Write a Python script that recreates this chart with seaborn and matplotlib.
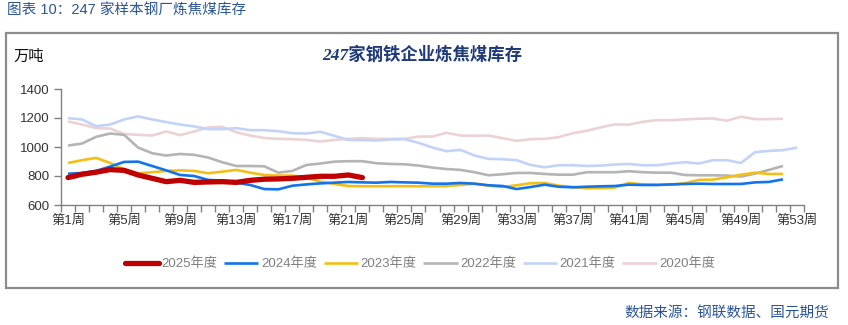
import numpy as np
import pandas as pd
import matplotlib
matplotlib.use("Agg")
import matplotlib.pyplot as plt
from matplotlib.lines import Line2D
from matplotlib.patches import Rectangle
import seaborn as sns

# Weekly coking-coal inventory of 247 steel mills (10k tonnes)
years = ["2025年度", "2024年度", "2023年度", "2022年度", "2021年度", "2020年度"]

inv_2025 = [789, 812, 826, 844, 839, 807, 784, 761, 770, 756, 759, 761, 756, 770,
            778, 780, 784, 791, 798, 798, 807, 789]
inv_2024 = [816, 821, 835, 865, 897, 899, 869, 839, 807, 800, 773, 768, 754, 738,
            710, 708, 733, 742, 749, 754, 759, 756, 754, 759, 756, 754, 747, 747,
            752, 747, 736, 731, 710, 724, 740, 726, 722, 726, 729, 731, 740, 738,
            738, 742, 745, 747, 745, 745, 745, 756, 759, 777]
inv_2023 = [890, 909, 925, 890, 846, 819, 826, 835, 839, 835, 819, 830, 842, 823,
            807, 803, 803, 789, 761, 745, 731, 729, 729, 729, 730, 729, 729, 731,
            738, 747, 733, 724, 736, 750, 752, 733, 724, 715, 717, 720, 752, 742,
            740, 740, 750, 773, 775, 791, 809, 823, 814, 814]
inv_2022 = [1010, 1024, 1070, 1093, 1084, 996, 957, 941, 952, 946, 927, 895, 869,
            869, 867, 823, 835, 876, 886, 899, 902, 902, 888, 883, 881, 872, 858,
            848, 842, 826, 805, 812, 821, 821, 814, 809, 809, 826, 826, 826, 833,
            826, 823, 823, 807, 805, 805, 803, 796, 816, 842, 869]
inv_2021 = [1199, 1190, 1144, 1155, 1190, 1211, 1190, 1172, 1155, 1142, 1123, 1123,
            1130, 1116, 1116, 1109, 1095, 1093, 1105, 1077, 1049, 1047, 1045, 1052,
            1054, 1029, 996, 971, 980, 941, 918, 916, 909, 876, 860, 874, 874, 869,
            872, 879, 883, 874, 874, 886, 895, 886, 909, 909, 890, 964, 973, 978, 996]
inv_2020 = [1176, 1155, 1130, 1128, 1089, 1084, 1079, 1107, 1082, 1107, 1135, 1139,
            1102, 1079, 1062, 1056, 1054, 1049, 1038, 1049, 1056, 1061, 1056, 1056,
            1056, 1072, 1072, 1098, 1079, 1077, 1079, 1061, 1042, 1054, 1056, 1068,
            1095, 1112, 1135, 1156, 1154, 1174, 1185, 1185, 1190, 1195, 1197, 1181,
            1209, 1192, 1192, 1195]

week_ticks = list(range(1, 54, 4))
week_labels = [f"第{w}周" for w in week_ticks]
y_ticks = [600, 800, 1000, 1200, 1400]

series = dict(zip(years, [inv_2025, inv_2024, inv_2023, inv_2022, inv_2021, inv_2020]))
colors = {"2025年度": "#C00000", "2024年度": "#1273EB", "2023年度": "#F2C014",
          "2022年度": "#B4B4B4", "2021年度": "#C3D3F7", "2020年度": "#EBD3D3"}
widths = {"2025年度": 3.8, "2024年度": 1.9, "2023年度": 1.9,
          "2022年度": 1.9, "2021年度": 1.9, "2020年度": 1.9}

df = pd.concat(
    [pd.DataFrame({"week": np.arange(1, len(v) + 1), "value": v, "year": k})
     for k, v in series.items()],
    ignore_index=True,
)

sns.set_theme(style="white")
plt.rcParams["font.family"] = ["Liberation Sans", "Noto Sans CJK SC", "DejaVu Sans"]

W, H = 848, 325
fig = plt.figure(figsize=(W / 100, H / 100), dpi=100)
fig.patch.set_facecolor("white")

ax = fig.add_axes([61 / W, 1 - 205 / H, (804 - 61) / W, (205 - 89) / H])

# older years first so the current year sits on top
for yr in reversed(years):
    sub = df[df["year"] == yr]
    sns.lineplot(data=sub, x="week", y="value", color=colors[yr],
                 linewidth=widths[yr], ax=ax, legend=False,
                 solid_capstyle="round" if yr == "2025年度" else "butt")

ax.set_xlim(0.5, 53.5)
ax.set_ylim(600, 1400)
ax.set_xlabel("")
ax.set_ylabel("")
ax.set_xticks(week_ticks)
ax.set_xticklabels(week_labels)
ax.set_xticks(np.arange(0.5, 54, 1), minor=True)
ax.set_yticks(y_ticks)
ax.set_yticklabels([str(v) for v in y_ticks])
ax.tick_params(axis="x", which="major", length=0, pad=7, labelsize=9.5, labelcolor="#333333")
ax.tick_params(axis="x", which="minor", bottom=True, length=5, width=1, color="#808080")
ax.tick_params(axis="y", left=True, length=5, width=1, color="#808080",
               labelsize=9.5, labelcolor="#333333", pad=3)
for s in ["top", "right"]:
    ax.spines[s].set_visible(False)
for s in ["left", "bottom"]:
    ax.spines[s].set_color("#808080")
    ax.spines[s].set_linewidth(1)
ax.grid(False)

# outer frame
fig.add_artist(Rectangle((6 / W, 1 - 288 / H), 832 / W, 255 / H, transform=fig.transFigure,
                         fill=False, edgecolor="#8C8C8C", linewidth=1.6))

fig.text(7 / W, 1 - 10 / H, "图表 10：247 家样本钢厂炼焦煤库存", ha="left", va="center",
         fontsize=10.5, color="#2B5597")
fig.text(13 / W, 1 - 57 / H, "万吨", ha="left", va="center", fontsize=11, color="#111111")
fig.text(422 / W, 1 - 55 / H, "247家钢铁企业炼焦煤库存", ha="center", va="center",
         fontsize=12.5, fontweight="bold", fontstyle="italic", color="#1F3A7A",
         family=["Liberation Serif", "Noto Sans CJK SC"])
fig.text(829 / W, 1 - 313 / H, "数据来源：钢联数据、国元期货", ha="right", va="center",
         fontsize=10.5, color="#2B5597")

handles = [Line2D([], [], color=colors[y], linewidth=widths[y],
                  solid_capstyle="round" if y == "2025年度" else "butt") for y in years]
fig.legend(handles, years, ncol=6, loc="center", bbox_to_anchor=(420 / W, 1 - 264 / H),
           frameon=False, fontsize=9.5, handlelength=2.6, handletextpad=0.2,
           columnspacing=0.5, labelcolor="#7F7F7F")

fig.savefig("out.png", dpi=100, facecolor="white")
